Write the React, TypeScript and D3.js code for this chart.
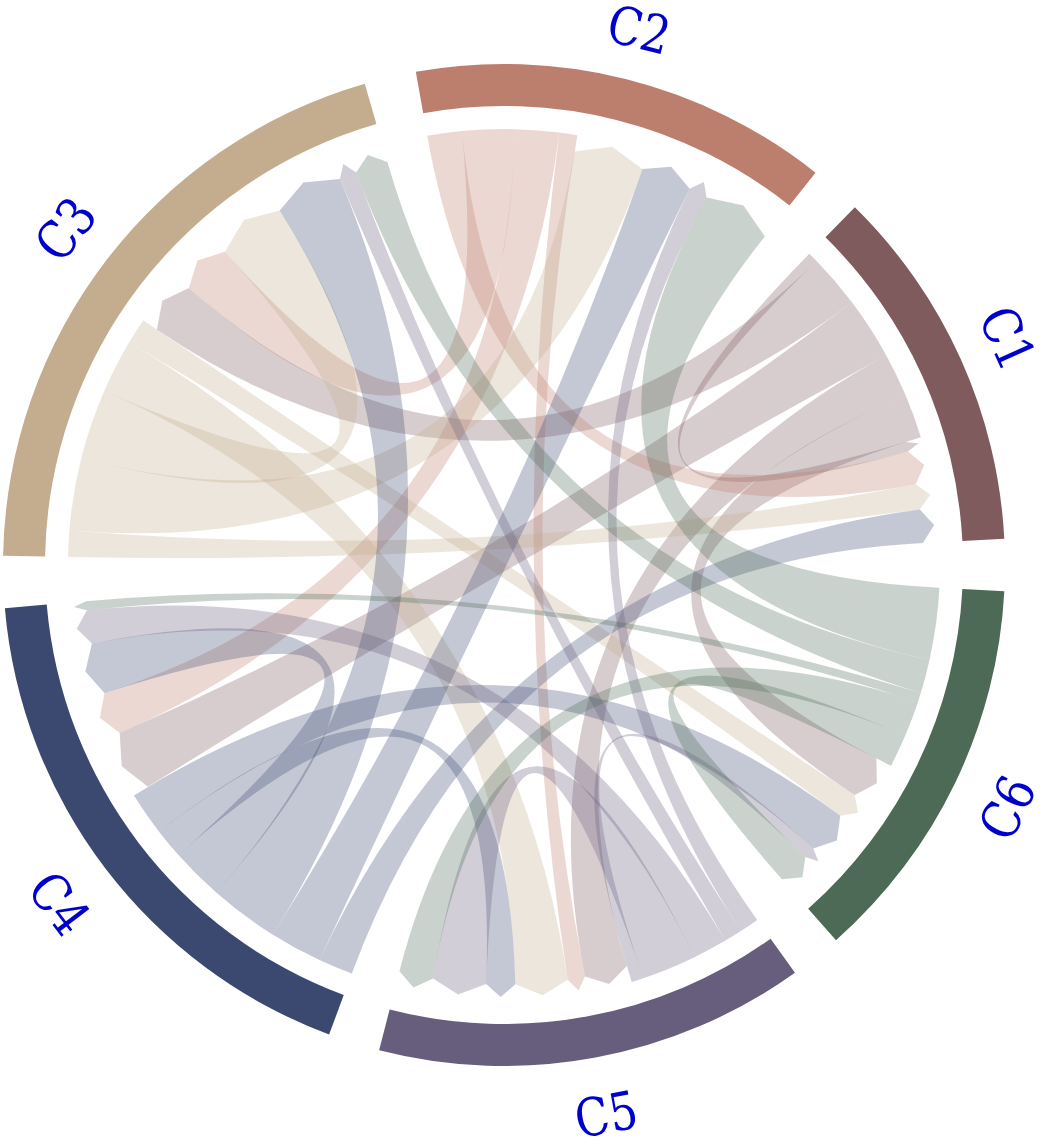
import React from 'react';
import * as d3 from 'd3';

// Group names and colours
const names = ['C1', 'C2', 'C3', 'C4', 'C5', 'C6'];
const groupColors = ['#7f5b5e', '#bc7f6e', '#c4ad8f', '#3b4870', '#675e7e', '#4d6a57'];

// Directed flows: row = source, column = target (C1..C6)
const fromC1 = [1.35, 0, 7.15, 8.3, 5.9, 5.85];
const fromC2 = [4.6, 0, 7.0, 5.85, 2.4, 0];
const fromC3 = [3.5, 9.6, 9.4, 0, 7.2, 3.45];
const fromC4 = [4.6, 7.0, 9.3, 7.0, 4.0, 5.8];
const fromC5 = [0, 2.6, 2.4, 4.6, 7.3, 1.6];
const fromC6 = [0, 9.6, 4.5, 1.25, 4.7, 4.4];
const matrix = [fromC1, fromC2, fromC3, fromC4, fromC5, fromC6];

const W = 1042;
const H = 1145;
const cx = 504;
const cy = 565;
const outerR = 501;
const innerR = 459;
const chordR = 436;
const tipR = 432;
const headR = 12.5;
const gapDeg = 6;

// math degrees (ccw from 3 o'clock) -> d3 radians (cw from 12 o'clock)
const toRad = (deg: number) => ((90 - deg) * Math.PI) / 180;

function layout() {
  const n = names.length;
  const totals = names.map((_, i) => d3.sum(matrix[i]) + d3.sum(matrix, (row) => row[i]));
  const total = d3.sum(totals);
  const angle = d3.scaleLinear().domain([0, total]).range([0, 360 - n * gapDeg]);
  const inEnds: any = {};
  const outEnds: any = {};
  const groups: any[] = [];
  let cursor = gapDeg / 2;
  for (let i = 0; i < n; i++) {
    const g0 = cursor;
    let pos = 0;
    for (let j = n - 1; j >= 0; j--) {
      const v = matrix[j][i];
      if (v > 0) {
        inEnds[`${j}-${i}`] = [g0 + angle(pos), g0 + angle(pos + v)];
        pos += v;
      }
    }
    for (let j = n - 1; j >= 0; j--) {
      const v = matrix[i][j];
      if (v > 0) {
        outEnds[`${i}-${j}`] = [g0 + angle(pos), g0 + angle(pos + v)];
        pos += v;
      }
    }
    const g1 = g0 + angle(pos);
    groups.push({ index: i, m0: g0, m1: g1 });
    cursor = g1 + gapDeg;
  }
  const chords: any[] = [];
  for (let s = 0; s < n; s++) {
    for (let t = 0; t < n; t++) {
      if (matrix[s][t] > 0) {
        const so = outEnds[`${s}-${t}`];
        const ti = inEnds[`${s}-${t}`];
        chords.push({
          key: `${s}-${t}`,
          color: groupColors[s],
          source: { startAngle: toRad(so[1]), endAngle: toRad(so[0]) },
          target: { startAngle: toRad(ti[1]), endAngle: toRad(ti[0]) },
        });
      }
    }
  }
  return { groups, chords };
}

export default function App() {
  const { groups, chords } = layout();
  const ribbon = (d3 as any)
    .ribbonArrow()
    .sourceRadius(chordR)
    .targetRadius(tipR)
    .headRadius(headR);
  const arc = d3.arc<any>().innerRadius(innerR).outerRadius(outerR);

  return (
    <svg
      width={W}
      height={H}
      style={{ position: 'absolute', left: 0, top: 0, background: '#fff' }}
    >
      <g transform={`translate(${cx},${cy})`}>
        {chords.map((c) => (
          <path key={c.key} d={ribbon(c)} fill={c.color} fillOpacity={0.3} stroke="none" />
        ))}
        {groups.map((g) => (
          <path
            key={names[g.index]}
            d={arc({ startAngle: toRad(g.m1), endAngle: toRad(g.m0) }) || ''}
            fill={groupColors[g.index]}
          />
        ))}
        {groups.map((g) => {
          const m = (g.m0 + g.m1) / 2;
          const upper = m > 0 && m < 180;
          const r = upper ? 552 : 559;
          const rad = (m * Math.PI) / 180;
          const x = r * Math.cos(rad);
          const y = -r * Math.sin(rad);
          const rot = upper ? 90 - m : 270 - m;
          return (
            <text
              key={'l' + names[g.index]}
              transform={`translate(${x},${y}) rotate(${rot}) scale(0.91,1.07)`}
              textAnchor="middle"
              dominantBaseline="central"
              fontFamily="DejaVu Serif"
              fontSize={49}
              fill="#0000cd"
            >
              {names[g.index]}
            </text>
          );
        })}
      </g>
    </svg>
  );
}
